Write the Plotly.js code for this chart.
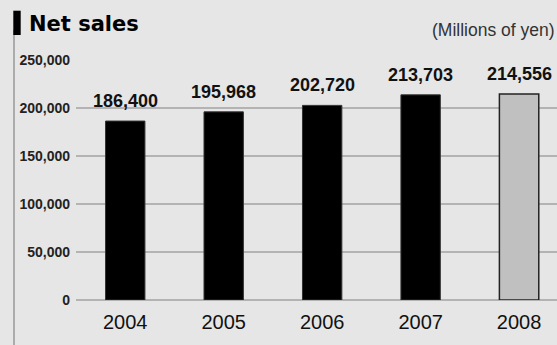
<!DOCTYPE html>
<html>
<head>
<meta charset="utf-8">
<script src="https://cdn.plot.ly/plotly-3.0.1.min.js"></script>
<style>
html,body{margin:0;padding:0;background:#e6e6e6;}
#chart{width:557px;height:345px;}
</style>
</head>
<body>
<div id="chart"></div>
<script>
const years = ['2004', '2005', '2006', '2007', '2008'];
const netSales = [186400, 195968, 202720, 213703, 214556];
const valueLabels = ['186,400', '195,968', '202,720', '213,703', '214,556'];
const barColors = ['#000000', '#000000', '#000000', '#000000', '#c0c0c0'];
const barEdge = ['#333333', '#333333', '#333333', '#333333', '#222222'];
const yTicks = [0, 50000, 100000, 150000, 200000, 250000];
const yTickText = ['0', '50,000', '100,000', '150,000', '200,000', '250,000'];

const W = 557, H = 345, L = 76, R = 0, T = 60, B = 45;
const pw = W - L - R, ph = H - T - B;
const px = x => (x - L) / pw;
const py = y => (H - B - y) / ph;
const boldFont = 'Liberation Sans, Arial, sans-serif';

const trace = {
  type: 'bar',
  x: years,
  y: netSales,
  width: 0.4,
  marker: {color: barColors, line: {color: barEdge, width: [1, 1, 1, 1, 1.5]}},
  hoverinfo: 'skip'
};

const annotations = years.map((yr, i) => ({
  x: i, y: netSales[i], xref: 'x', yref: 'y',
  text: '<b>' + valueLabels[i] + '</b>', showarrow: false,
  yanchor: 'bottom', xanchor: 'center', yshift: 8,
  font: {family: boldFont, size: 18, color: '#111'}
}));
annotations.push({
  xref: 'paper', yref: 'paper', x: px(27), y: py(24), xanchor: 'left', yanchor: 'middle',
  text: '<b>Net sales</b>', showarrow: false,
  font: {family: 'DejaVu Sans', size: 21, color: '#000'}
});
annotations.push({
  xref: 'paper', yref: 'paper', x: px(557), y: py(30), xanchor: 'right', yanchor: 'middle',
  text: '(Millions of yen)', showarrow: false,
  font: {family: 'Liberation Sans', size: 17.5, color: '#333'}
});

const shapes = [
  {type: 'line', xref: 'paper', yref: 'paper', x0: px(14), x1: px(14), y0: py(30), y1: py(345),
   line: {color: '#999', width: 1.5}},
  {type: 'rect', xref: 'paper', yref: 'paper', x0: px(13.3), x1: px(20.7), y0: py(10.7), y1: py(35),
   fillcolor: '#000', line: {width: 0}}
];

const layout = {
  width: W, height: H,
  margin: {l: L, r: R, t: T, b: B, pad: 0},
  paper_bgcolor: '#e6e6e6', plot_bgcolor: '#e6e6e6',
  showlegend: false,
  xaxis: {
    type: 'category', range: [-0.5, 4.385], showgrid: false, zeroline: false,
    showline: false, ticks: '', ticklabelstandoff: 8,
    tickfont: {family: 'Liberation Sans', size: 20, color: '#111'}
  },
  yaxis: {
    range: [0, 250000], tickvals: yTicks, ticktext: yTickText.map(t => '<b>' + t + '</b>'),
    showgrid: true, gridcolor: '#b3b3b3', gridwidth: 1.3,
    zeroline: true, zerolinecolor: '#b3b3b3', zerolinewidth: 1.3,
    showline: false, ticks: '', ticklabelstandoff: 5,
    tickfont: {family: boldFont, size: 14, color: '#222'}
  },
  annotations: annotations,
  shapes: shapes
};

Plotly.newPlot('chart', [trace], layout, {displayModeBar: false, staticPlot: true});
</script>
</body>
</html>
